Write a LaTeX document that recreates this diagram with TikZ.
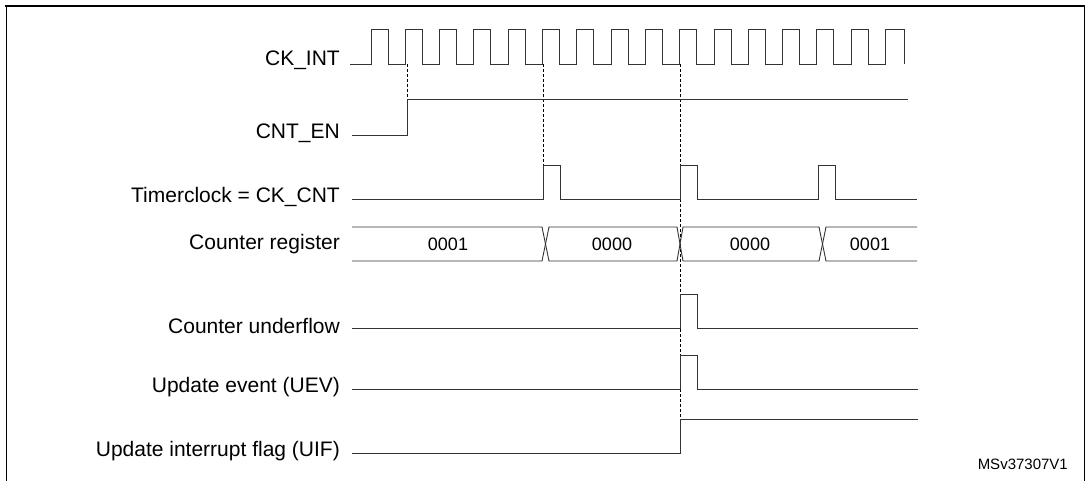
\documentclass[tikz,border=0pt]{standalone}
\usepackage{fontspec}
\setmainfont{Liberation Sans}
\begin{document}
\begin{tikzpicture}[x=1pt,y=-1pt,
  lbl/.style={anchor=east,inner sep=0pt,font=\fontsize{21}{24}\selectfont},
  val/.style={inner sep=0pt,font=\fontsize{18}{21}\selectfont},
  sig/.style={line width=0.9pt,black!80},
  guide/.style={dashed,line width=0.6pt,dash pattern=on 3pt off 2pt}]
\useasboundingbox (0,0) rectangle (1087,481);
\draw[line width=0.9pt] (6,7) -- (6,481);
\draw[line width=0.9pt] (1084,7) -- (1084,481);
\draw[line width=2pt] (5,6) -- (1085,6);
% labels
\node[lbl] (l1) at (340,60) {CK\_INT};
\node[lbl] (l2) at (340,133) {CNT\_EN};
\node[lbl] (l3) at (340,197) {Timerclock = CK\_CNT};
\node[lbl] (l4) at (340,244) {Counter register};
\node[lbl] (l5) at (340,326) {Counter underflow};
\node[lbl] (l6) at (340,387) {Update event (UEV)};
\node[lbl] (l7) at (340,451) {Update interrupt flag (UIF)};
\node[anchor=east,inner sep=0pt,font=\fontsize{15}{17}\selectfont] (id) at (1068,464) {MSv37307V1};
% guides
\draw[guide] (407,64) -- (407,135);
\draw[guide] (543,64) -- (543,165);
\draw[guide] (680,64) -- (680,453);
% CK_INT
\draw[sig] (350,64) -- (371,64)
  \foreach \k in {0,...,14} {
    -- ({371+34.3*\k},64) -- ({371+34.3*\k},29) -- ({388+34.3*\k},29) -- ({388+34.3*\k},64)
  }
  -- (885.5,64) -- (885.5,29) -- (904,29) -- (904,64);
% CNT_EN
\draw[sig] (352,135) -- (407,135) -- (407,99) -- (908,99);
% Timerclock
\draw[sig] (352,199) -- (543,199) -- (543,165) -- (560,165) -- (560,199)
  -- (680,199) -- (680,165) -- (697,165) -- (697,199)
  -- (818,199) -- (818,165) -- (835,165) -- (835,199) -- (917,199);
% Counter register
\draw[sig] (352,227) -- (542,227) -- (549,261) -- (677,261) -- (683,227) -- (819,227) -- (826,261) -- (917,261);
\draw[sig] (352,261) -- (542,261) -- (549,227) -- (677,227) -- (683,261) -- (819,261) -- (826,227) -- (917,227);
\node[val] (v1) at (448,244) {0001};
\node[val] (v2) at (612,244) {0000};
\node[val] (v3) at (750,244) {0000};
\node[val] (v4) at (870,244) {0001};
% underflow
\draw[sig] (352,328) -- (680,328) -- (680,294) -- (697,294) -- (697,328) -- (918,328);
% UEV
\draw[sig] (352,389) -- (680,389) -- (680,355) -- (697,355) -- (697,389) -- (918,389);
% UIF
\draw[sig] (352,453) -- (680,453) -- (680,419) -- (918,419);
\end{tikzpicture}
\end{document}
